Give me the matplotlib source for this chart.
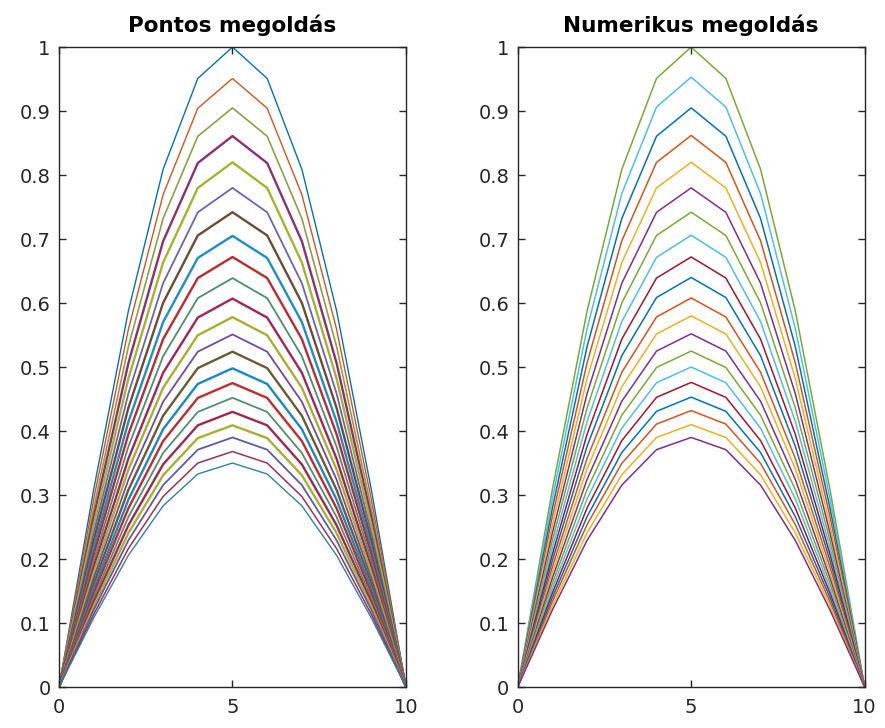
import matplotlib.pyplot as plt

# grid points and the profile (peak = 1)
x_pts = [0, 1, 2, 3, 4, 5, 6, 7, 8, 9, 10]
profile = [0, 0.309, 0.588, 0.809, 0.951, 1.0, 0.951, 0.809, 0.588, 0.309, 0]

# left panel: peak heights (top to bottom), colours and line widths
exact_peaks = [1.0, 0.951, 0.905, 0.861, 0.820, 0.780, 0.742, 0.705, 0.672,
               0.639, 0.607, 0.578, 0.551, 0.524, 0.498, 0.475, 0.452, 0.430,
               0.409, 0.390, 0.368, 0.350]
exact_colors = ['#0072BD', '#D95319', '#8F9E48', '#8E2F6E', '#A2B52C', '#6A64B8',
                '#6E4B32', '#1A8FC9', '#C0282F', '#4A8F6E', '#A22458', '#A7B02E',
                '#6C4CA6', '#6A5A32', '#1A88C8', '#C22A30', '#4E9070', '#A0284F',
                '#A8B030', '#5A5AB0', '#A03050', '#3080A8']
exact_widths = [1.0, 1.0, 1.2, 1.7, 1.7, 1.3, 1.7, 1.7, 1.7, 1.3, 1.7, 1.7,
                1.3, 1.7, 1.7, 1.7, 1.3, 1.7, 1.7, 1.3, 1.1, 1.0]

# right panel
num_peaks = [1.0, 0.953, 0.905, 0.862, 0.820, 0.780, 0.742, 0.706, 0.672, 0.640,
             0.608, 0.580, 0.552, 0.525, 0.500, 0.476, 0.453, 0.432, 0.410, 0.390]
num_colors = ['#77AC30', '#4DBEEE', '#0072BD', '#D95319', '#EDB120', '#7E2F8E',
              '#77AC30', '#4DBEEE', '#A2142F', '#0072BD', '#D95319', '#EDB120',
              '#7E2F8E', '#77AC30', '#4DBEEE', '#A2142F', '#0072BD', '#D95319',
              '#EDB120', '#7E2F8E']

titles = ['Pontos megoldás', 'Numerikus megoldás']
y_ticks = [0, 0.1, 0.2, 0.3, 0.4, 0.5, 0.6, 0.7, 0.8, 0.9, 1]
y_labels = ['0', '0.1', '0.2', '0.3', '0.4', '0.5', '0.6', '0.7', '0.8', '0.9', '1']
x_ticks = [0, 5, 10]

plt.rcParams['font.family'] = ['DejaVu Sans']
fig = plt.figure(figsize=(8.85, 7.28), dpi=100)
ax1 = fig.add_axes([0.0667, 0.0563, 0.392, 0.879])
ax2 = fig.add_axes([0.585, 0.0563, 0.392, 0.879])

for amp, col, lw in zip(exact_peaks, exact_colors, exact_widths):
    ax1.plot(x_pts, [amp * p for p in profile], color=col, lw=lw)

for amp, col in zip(num_peaks, num_colors):
    ax2.plot(x_pts, [amp * p for p in profile], color=col, lw=1.1)

for ax, title in zip([ax1, ax2], titles):
    ax.set_xlim(0, 10)
    ax.set_ylim(0, 1)
    ax.set_xticks(x_ticks)
    ax.set_yticks(y_ticks)
    ax.set_yticklabels(y_labels)
    ax.tick_params(direction='in', top=True, right=True, length=5, width=1,
                   colors='#262626', labelsize=14, pad=6)
    ax.tick_params(axis='x', pad=8)
    for s in ax.spines.values():
        s.set_color('#262626')
        s.set_linewidth(1)
    ax.set_title(title, fontsize=15.5, fontweight='bold', color='black', pad=11)

fig.savefig('out.png', dpi=100)
